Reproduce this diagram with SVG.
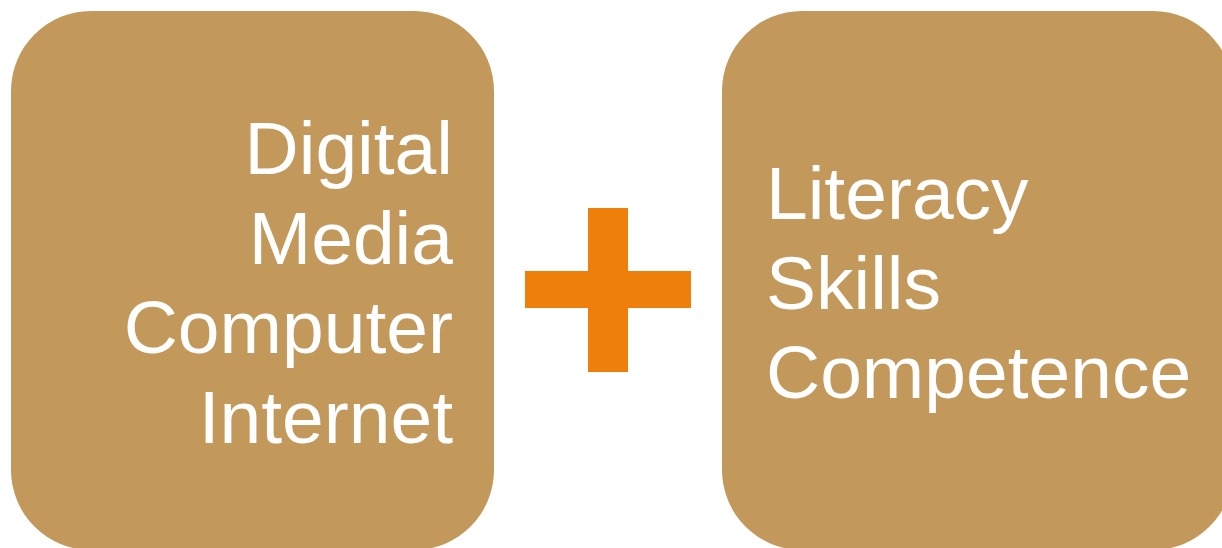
<svg xmlns="http://www.w3.org/2000/svg" width="1222" height="548" viewBox="0 0 1222 548">
  <style>
    .box { fill: #C2985B; }
    .lbl { font-family: "Liberation Sans", Arial, sans-serif; font-size: 75px; fill: #FFFFFF; }
    .end { text-anchor: end; }
    .plus { fill: #EF7F0B; }
  </style>
  <rect width="1222" height="548" fill="#FFFFFF"/>
  <g id="node-left">
    <rect class="box" x="11" y="11" width="483" height="539" rx="80" ry="80"/>
    <text class="lbl end" x="453" y="174">Digital</text>
    <text class="lbl end" x="453" y="264">Media</text>
    <text class="lbl end" x="453" y="353">Computer</text>
    <text class="lbl end" x="453" y="443">Internet</text>
  </g>
  <g id="node-plus">
    <rect class="plus" x="588" y="208" width="40" height="164"/>
    <rect class="plus" x="525" y="271" width="166" height="37"/>
  </g>
  <g id="node-right">
    <rect class="box" x="722" y="11" width="511" height="539" rx="80" ry="80"/>
    <text class="lbl" x="766" y="219">Literacy</text>
    <text class="lbl" x="766" y="309">Skills</text>
    <text class="lbl" x="766" y="398">Competence</text>
  </g>
  <g id="connectors"/>
</svg>
